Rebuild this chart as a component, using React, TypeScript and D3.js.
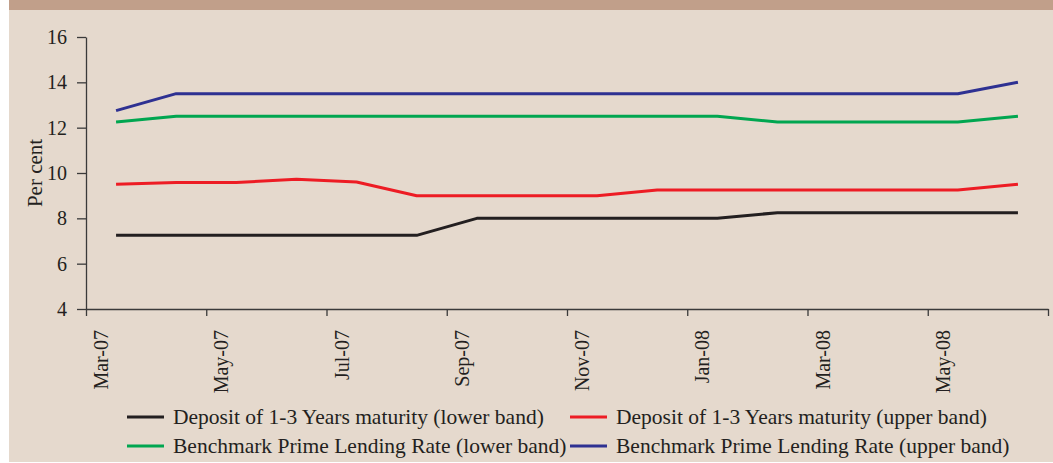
import React, { useEffect, useRef } from 'react';
import * as d3 from 'd3';

// months Mar-07 .. Jun-08
const months = ['Mar-07', 'Apr-07', 'May-07', 'Jun-07', 'Jul-07', 'Aug-07', 'Sep-07', 'Oct-07',
  'Nov-07', 'Dec-07', 'Jan-08', 'Feb-08', 'Mar-08', 'Apr-08', 'May-08', 'Jun-08'];

const depositLower = [7.25, 7.25, 7.25, 7.25, 7.25, 7.25, 8, 8, 8, 8, 8, 8.25, 8.25, 8.25, 8.25, 8.25];
const depositUpper = [9.5, 9.58, 9.58, 9.72, 9.6, 9, 9, 9, 9, 9.25, 9.25, 9.25, 9.25, 9.25, 9.25, 9.5];
const bplrLower = [12.25, 12.5, 12.5, 12.5, 12.5, 12.5, 12.5, 12.5, 12.5, 12.5, 12.5, 12.25, 12.25, 12.25, 12.25, 12.5];
const bplrUpper = [12.75, 13.5, 13.5, 13.5, 13.5, 13.5, 13.5, 13.5, 13.5, 13.5, 13.5, 13.5, 13.5, 13.5, 13.5, 14];

const yTicks = [4, 6, 8, 10, 12, 14, 16];

const seriesNames = [
  'Deposit of 1-3 Years maturity (lower band)',
  'Deposit of 1-3 Years maturity (upper band)',
  'Benchmark Prime Lending Rate (lower band)',
  'Benchmark Prime Lending Rate (upper band)',
];
const seriesColors = ['#231f20', '#ed1c24', '#00a650', '#2e3192'];

const App = () => {
  const ref = useRef<SVGSVGElement>(null);

  useEffect(() => {
    const svg = d3.select(ref.current);
    svg.selectAll('*').remove();
    const font = '"Liberation Serif", "Times New Roman", serif';
    const ink = '#231f20';

    // panel
    svg.append('rect').attr('x', 9).attr('y', 0).attr('width', 1044).attr('height', 462).attr('fill', '#e5d9cd');
    svg.append('rect').attr('x', 9).attr('y', 0).attr('width', 1044).attr('height', 10).attr('fill', '#c19f8a');

    const x = d3.scaleLinear().domain([0, months.length]).range([86, 1048]);
    const y = d3.scaleLinear().domain([4, 16]).range([309, 37]);

    // y axis
    const yAxis = svg.append('g')
      .attr('transform', 'translate(86,0)')
      .call(d3.axisLeft(y).tickValues(yTicks).tickSize(9).tickSizeOuter(0).tickPadding(10));
    yAxis.select('.domain').attr('stroke', '#3a3a3a').attr('stroke-width', 1.3);
    yAxis.selectAll('.tick line').attr('stroke', '#3a3a3a').attr('stroke-width', 1.3);
    yAxis.selectAll('.tick text').attr('font-family', font).attr('font-size', 20).attr('fill', ink);

    // x axis, ticks at every second month boundary
    const xTickIdx = d3.range(0, months.length + 1, 2);
    const xAxis = svg.append('g')
      .attr('transform', 'translate(0,309)')
      .call(d3.axisBottom(x).tickValues(xTickIdx).tickSize(7).tickSizeOuter(0).tickFormat(() => ''));
    xAxis.select('.domain').attr('stroke', '#3a3a3a').attr('stroke-width', 1.3);
    xAxis.selectAll('.tick line').attr('stroke', '#3a3a3a').attr('stroke-width', 1.3);

    svg.append('g').selectAll('text')
      .data(xTickIdx.filter(i => i < months.length))
      .join('text')
      .attr('transform', i => `translate(${x(i) + 22},330) rotate(-90)`)
      .attr('text-anchor', 'end')
      .attr('font-family', font)
      .attr('font-size', 20)
      .attr('fill', ink)
      .text(i => months[i]);

    // y title
    svg.append('text')
      .attr('transform', 'translate(42,173) rotate(-90)')
      .attr('text-anchor', 'middle')
      .attr('font-family', font)
      .attr('font-size', 21)
      .attr('fill', ink)
      .text('Per cent');

    // lines
    const line = d3.line<number>()
      .x((_, i) => x(i + 0.5))
      .y(d => y(d));

    [depositLower, depositUpper, bplrLower, bplrUpper].forEach((s, k) => {
      svg.append('path')
        .datum(s)
        .attr('fill', 'none')
        .attr('stroke', seriesColors[k])
        .attr('stroke-width', 3)
        .attr('stroke-linejoin', 'round')
        .attr('d', line);
    });

    // legend: 2 columns x 2 rows
    const cols = [127, 570];
    const rows = [417, 446];
    const legend = svg.append('g');
    seriesNames.forEach((name, k) => {
      const cx = cols[k % 2];
      const ry = rows[Math.floor(k / 2)];
      legend.append('line')
        .attr('x1', cx).attr('x2', cx + 37)
        .attr('y1', ry).attr('y2', ry)
        .attr('stroke', seriesColors[k]).attr('stroke-width', 3);
      legend.append('text')
        .attr('x', cx + 46).attr('y', ry + 7)
        .attr('font-family', font)
        .attr('font-size', 21.5)
        .attr('fill', ink)
        .text(name);
    });
  }, []);

  return (
    <svg ref={ref} width={1053} height={463} style={{ position: 'absolute', left: 0, top: 0 }} />
  );
};

export default App;
